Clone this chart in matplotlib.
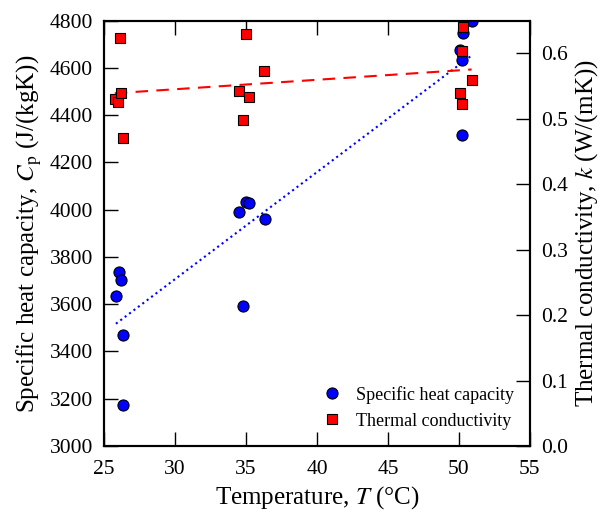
import matplotlib
matplotlib.use("Agg")
import matplotlib.pyplot as plt
import numpy as np

plt.rcParams['font.family'] = ['Liberation Serif', 'DejaVu Serif']
plt.rcParams['mathtext.fontset'] = 'stix'

# specific heat capacity samples
t_cp = [25.83, 26.04, 26.2, 26.3, 26.3,
        34.52, 34.99, 35.23, 36.31, 34.8,
        50.27, 50.08, 50.2, 50.2, 50.9]
cp = [3635, 3736, 3702, 3470, 3174,
      3990, 4032, 4030, 3959, 3594,
      4746, 4676, 4633, 4316, 4800]

# thermal conductivity samples
t_k = [26.1, 25.75, 26.0, 26.2, 26.3,
       34.99, 36.28, 34.52, 35.23, 34.8,
       50.3, 50.2, 50.9, 50.1, 50.2]
k = [0.623, 0.531, 0.526, 0.539, 0.471,
     0.630, 0.573, 0.543, 0.533, 0.498,
     0.641, 0.604, 0.559, 0.540, 0.523]

fig = plt.figure(figsize=(6.02, 5.13), dpi=100)
ax = fig.add_axes([0.173, 0.1306, 0.707, 0.8291])
ax2 = ax.twinx()

# linear fits
p_cp = np.polyfit(t_cp, cp, 1)
p_k = np.polyfit(t_k, k, 1)
xf_cp = np.array([min(t_cp), max(t_cp)])
xf_k = np.array([min(t_k), max(t_k)])

l1, = ax.plot(t_cp, cp, 'o', color='b', mec='k', mew=0.8, ms=8,
              label='Specific heat capacity', zorder=3)
ax.plot(xf_cp, np.polyval(p_cp, xf_cp), ':', color='b', lw=1.5)
l2, = ax2.plot(t_k, k, 's', color='r', mec='k', mew=0.8, ms=7.5,
               label='Thermal conductivity', zorder=3)
ax2.plot(xf_k, np.polyval(p_k, xf_k), '--', color='r', lw=1.5,
         dashes=(6, 4))

ax.set_xlim(25, 55)
ax.set_ylim(3000, 4800)
ax2.set_ylim(0, 0.65)
ax.set_xticks(range(25, 56, 5))
ax.set_yticks(range(3000, 4801, 200))
ax2.set_yticks(np.arange(0, 0.61, 0.1))
ax2.set_yticklabels(['%.1f' % v for v in np.arange(0, 0.61, 0.1)])

ax.tick_params(direction='in', length=10, width=1, labelsize=15.5,
               top=True, right=False, pad=8)
ax.tick_params(axis='x', pad=10)
ax2.tick_params(direction='in', length=10, width=1, labelsize=15.5, pad=8)
for a in (ax, ax2):
    for s in a.spines.values():
        s.set_linewidth(1.5)

ax.set_xlabel('Temperature, $T$ (°C)', fontsize=18, labelpad=4)
ax.set_ylabel('Specific heat capacity, $C_\\mathrm{p}$ (J/(kgK))', fontsize=18)
ax2.set_ylabel('Thermal conductivity, $k$ (W/(mK))', fontsize=18)

ax2.legend([l1, l2], ['Specific heat capacity', 'Thermal conductivity'],
           loc='lower right', frameon=False, fontsize=13, handletextpad=0.3,
           borderaxespad=0.5)

fig.savefig('out.png', dpi=100)
